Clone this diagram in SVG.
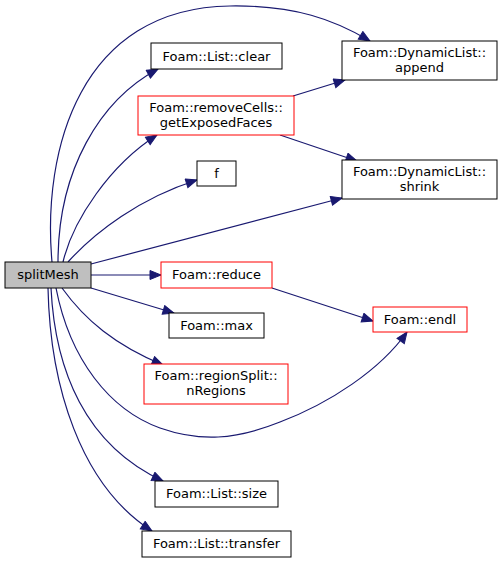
<svg xmlns="http://www.w3.org/2000/svg" width="503" height="563" viewBox="0 0 503 563">
<style>
.n rect{fill:#fff;stroke:#000;stroke-width:1}
.n.r rect{stroke:#ff0000}
.n.s rect{fill:#bfbfbf}
text{font-family:"DejaVu Sans",sans-serif;font-size:13px;text-anchor:middle;fill:#000}
.e path{fill:none;stroke:#191970;stroke-width:1.2;marker-end:url(#ah)}
</style>
<defs>
<marker id="ah" markerUnits="userSpaceOnUse" markerWidth="13" markerHeight="11" refX="12" refY="5" orient="auto">
<path d="M1,0.5 L12,5 L1,9.5 z" fill="#191970" stroke="#191970"/>
</marker>
</defs>
<rect width="503" height="563" fill="#fff"/>
<g id="edges" class="e">
<path d="M52,262 C42,150 80,8 230,6 C295,5 335,20 370,41"/>
<path d="M58,262 C58,170 100,100 158,69"/>
<path d="M63,262 C73,220 110,165 157,135"/>
<path d="M68,262 C95,232 140,198 197,180"/>
<path d="M91,264 L342,198"/>
<path d="M91,275 L161,275"/>
<path d="M91,288 L174,313"/>
<path d="M62,288 C85,320 115,345 163,365"/>
<path d="M56,288 C70,360 110,410 160,428 C200,442 235,440 280,422 C330,403 380,370 407,332"/>
<path d="M51,288 C55,370 85,445 163,481"/>
<path d="M48,288 C50,385 80,485 152,531"/>
<path d="M293,96 L345,80"/>
<path d="M280,135 L357,161"/>
<path d="M272,288 L373,321"/>
</g>
<g id="splitMesh" class="n s"><rect x="5" y="262" width="86" height="26"/><text x="48" y="279">splitMesh</text></g>
<g id="clear" class="n"><rect x="151" y="43" width="131" height="26"/><text x="216.5" y="60.5">Foam::List::clear</text></g>
<g id="getExposedFaces" class="n r"><rect x="138" y="96" width="156" height="39"/><text x="216" y="112">Foam::removeCells::</text><text x="216" y="127">getExposedFaces</text></g>
<g id="f" class="n"><rect x="197" y="161" width="39" height="25"/><text x="216.5" y="178">f</text></g>
<g id="append" class="n"><rect x="342" y="41" width="155" height="39"/><text x="419.5" y="57">Foam::DynamicList::</text><text x="419.5" y="72">append</text></g>
<g id="shrink" class="n"><rect x="342" y="160" width="155" height="39"/><text x="419.5" y="176">Foam::DynamicList::</text><text x="419.5" y="191">shrink</text></g>
<g id="reduce" class="n r"><rect x="161" y="262" width="111" height="26"/><text x="216.5" y="279">Foam::reduce</text></g>
<g id="max" class="n"><rect x="169" y="313" width="95" height="25"/><text x="216.5" y="330">Foam::max</text></g>
<g id="endl" class="n r"><rect x="373" y="307" width="94" height="25"/><text x="420" y="324">Foam::endl</text></g>
<g id="nRegions" class="n r"><rect x="144" y="364" width="144" height="40"/><text x="216" y="380">Foam::regionSplit::</text><text x="216" y="395">nRegions</text></g>
<g id="size" class="n"><rect x="155" y="481" width="123" height="26"/><text x="216.5" y="498">Foam::List::size</text></g>
<g id="transfer" class="n"><rect x="142" y="531" width="149" height="26"/><text x="216.5" y="548">Foam::List::transfer</text></g>
</svg>
